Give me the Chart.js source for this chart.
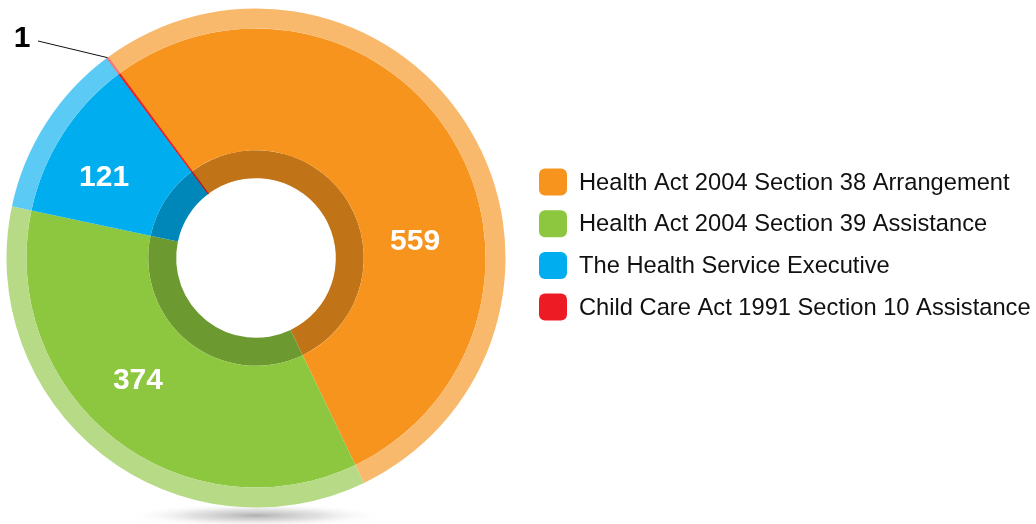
<!DOCTYPE html>
<html>
<head>
<meta charset="utf-8">
<script src="https://cdn.jsdelivr.net/npm/chart.js@4.4.0/dist/chart.umd.min.js"></script>
<style>
    html, body { margin: 0; padding: 0; background: #fff; }
    #wrap { width: 1036px; height: 524px; position: relative; }
</style>
</head>
<body>
<div id="wrap"><canvas id="donut"></canvas></div>
<script>
const categories = [
    'Health Act 2004 Section 38 Arrangement',
    'Health Act 2004 Section 39 Assistance',
    'The Health Service Executive',
    'Child Care Act 1991 Section 10 Assistance'
];
const counts = [559, 374, 121, 1];

const mainColors = ['#F7941E', '#8DC63F', '#00AEEF', '#ED1C24'];
const lightColors = ['#F9B96C', '#B6DA86', '#5BCBF5', '#F27379'];
const darkColors = ['#C07317', '#6C9A31', '#0087BA', '#B9161C'];

// angle (deg, clockwise from top) and radius for the value labels
const labelSpots = [[84, 160], [224, 170], [298, 172], null];

// the 1-count slice is given a thin outline so it stays visible
const edgeWidths = [0, 0, 0, 1];

const shadowPlugin = {
    id: 'shadow',
    beforeDatasetsDraw(chart) {
        const arc = chart.getDatasetMeta(0).data[0];
        if (!arc) return;
        const ctx = chart.ctx;
        const cx = arc.x, cy = arc.y + arc.outerRadius + 8;
        ctx.save();
        ctx.translate(cx, cy);
        ctx.scale(1, 0.09);
        const g = ctx.createRadialGradient(0, 0, 0, 0, 0, 130);
        g.addColorStop(0, 'rgba(150,150,150,0.75)');
        g.addColorStop(0.5, 'rgba(190,190,190,0.45)');
        g.addColorStop(1, 'rgba(255,255,255,0)');
        ctx.fillStyle = g;
        ctx.beginPath();
        ctx.arc(0, 0, 130, 0, Math.PI * 2);
        ctx.fill();
        ctx.restore();
    }
};

const labelPlugin = {
    id: 'valueLabels',
    afterDatasetsDraw(chart) {
        const ctx = chart.ctx;
        const meta = chart.getDatasetMeta(1);
        ctx.save();
        ctx.font = 'bold 30px "Liberation Sans", Arial, sans-serif';
        ctx.textAlign = 'center';
        ctx.textBaseline = 'middle';
        meta.data.forEach((arc, i) => {
            const spot = labelSpots[i];
            if (spot) {
                const a = spot[0] * Math.PI / 180;
                ctx.fillStyle = '#fff';
                ctx.fillText(counts[i], arc.x + spot[1] * Math.sin(a), arc.y - spot[1] * Math.cos(a));
            } else {
                // small slice: label outside with a leader line
                const outer = chart.getDatasetMeta(0).data[i];
                const mid = (outer.startAngle + outer.endAngle) / 2;
                const ex = outer.x + outer.outerRadius * Math.cos(mid);
                const ey = outer.y + outer.outerRadius * Math.sin(mid);
                ctx.strokeStyle = '#111';
                ctx.lineWidth = 1;
                ctx.beginPath();
                ctx.moveTo(ex, ey);
                ctx.lineTo(38, 41);
                ctx.stroke();
                ctx.fillStyle = '#000';
                ctx.fillText(counts[i], 22, 39);
            }
        });
        ctx.restore();
    }
};

const legendPlugin = {
    id: 'sideLegend',
    afterDraw(chart) {
        const ctx = chart.ctx;
        ctx.save();
        ctx.font = '23.7px "Liberation Sans", Arial, sans-serif';
        ctx.textBaseline = 'middle';
        categories.forEach((name, i) => {
            const y = 182 + i * 41.7;
            ctx.fillStyle = mainColors[i];
            ctx.beginPath();
            ctx.roundRect(539, y - 13.5, 28, 27, 6);
            ctx.fill();
            ctx.fillStyle = '#111';
            ctx.fillText(name, 579, y + 1);
        });
        ctx.restore();
    }
};

new Chart(document.getElementById('donut'), {
    type: 'doughnut',
    data: {
        labels: categories,
        datasets: [
            { data: counts, backgroundColor: lightColors, borderColor: lightColors, borderWidth: edgeWidths, weight: 20 },
            { data: counts, backgroundColor: mainColors, borderColor: mainColors, borderWidth: edgeWidths, weight: 122 },
            { data: counts, backgroundColor: darkColors, borderColor: darkColors, borderWidth: edgeWidths, weight: 28 }
        ]
    },
    options: {
        responsive: true,
        maintainAspectRatio: false,
        animation: false,
        events: [],
        cutout: '32%',
        rotation: -36.4,
        layout: {
            padding: { left: 6, right: 530, top: 8, bottom: 16 }
        },
        plugins: {
            legend: { display: false },
            tooltip: { enabled: false }
        }
    },
    plugins: [shadowPlugin, labelPlugin, legendPlugin]
});
</script>
</body>
</html>
